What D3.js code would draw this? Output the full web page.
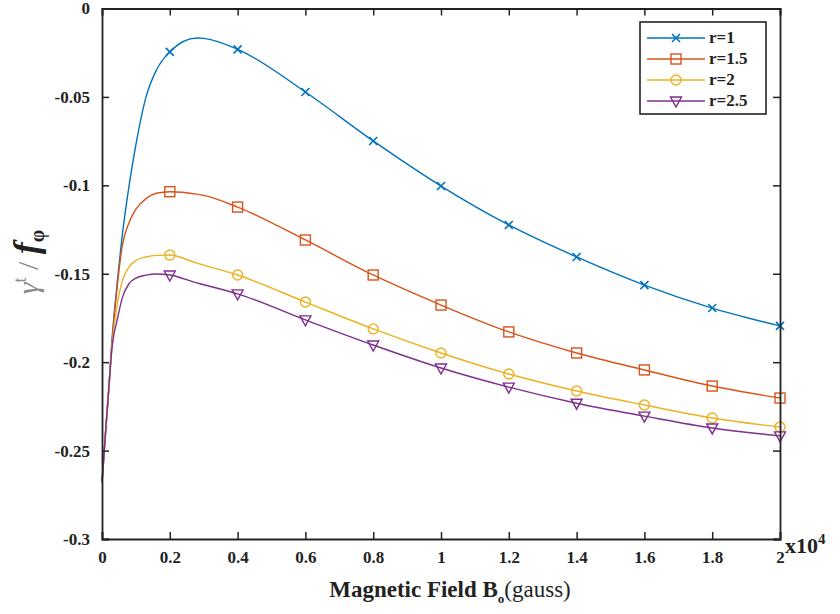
<!DOCTYPE html>
<html><head><meta charset="utf-8">
<script src="https://cdn.jsdelivr.net/npm/d3@7"></script>
<style>body{margin:0;background:#fff}svg{display:block}</style>
</head><body><svg id="c" width="840" height="614"></svg>
<script>
// ---- data (x in units of 10^4 gauss) ----
const seriesNames = ["r=1", "r=1.5", "r=2", "r=2.5"];
const markerX = [0.2, 0.4, 0.6, 0.8, 1.0, 1.2, 1.4, 1.6, 1.8, 2.0];
const markerR1  = [-0.0245, -0.0231, -0.0472, -0.0749, -0.1004, -0.1224, -0.1405, -0.1564, -0.1694, -0.1795];
const markerR15 = [-0.1036, -0.1123, -0.1309, -0.1507, -0.1677, -0.1829, -0.1948, -0.2044, -0.2135, -0.2203];
const markerR2  = [-0.1394, -0.1507, -0.1660, -0.1812, -0.1948, -0.2067, -0.2163, -0.2242, -0.2316, -0.2367];
const markerR25 = [-0.1507, -0.1614, -0.1761, -0.1903, -0.2033, -0.2141, -0.2232, -0.2305, -0.2372, -0.2417];
// extra curve samples read near the origin / peak
const earlyX   = [0, 0.01, 0.02, 0.03, 0.045, 0.06, 0.08, 0.1, 0.13, 0.16];
const earlyR1  = [-0.268, -0.241, -0.215, -0.186, -0.155, -0.128, -0.100, -0.077, -0.050, -0.035];
const earlyR15 = [-0.268, -0.241, -0.215, -0.188, -0.157, -0.134, -0.121, -0.1135, -0.1075, -0.1045];
const earlyR2  = [-0.268, -0.241, -0.215, -0.190, -0.167, -0.154, -0.146, -0.1425, -0.1405, -0.1396];
const earlyR25 = [-0.268, -0.241, -0.215, -0.191, -0.176, -0.1635, -0.1555, -0.1525, -0.1508, -0.1501];
const midX   = [0.28, 0.3];
const midR1  = [-0.0167, -0.0169];
const midR15 = [-0.1050, -0.1057];
const midR2  = [-0.1440, -0.1451];
const midR25 = [-0.1552, -0.1562];
const xTicks = [0, 0.2, 0.4, 0.6, 0.8, 1, 1.2, 1.4, 1.6, 1.8, 2];
const xTickLabels = ["0","0.2","0.4","0.6","0.8","1","1.2","1.4","1.6","1.8","2"];
const yTicks = [0, -0.05, -0.1, -0.15, -0.2, -0.25, -0.3];
const yTickLabels = ["0","-0.05","-0.1","-0.15","-0.2","-0.25","-0.3"];
const colors = ["#0072BD", "#D95319", "#EDB120", "#7E2F8E"];
const markerTypes = ["x", "square", "circle", "triangleDown"];

const markerVals = [markerR1, markerR15, markerR2, markerR25];
const earlyVals = [earlyR1, earlyR15, earlyR2, earlyR25];
const midVals = [midR1, midR15, midR2, midR25];

const svg = d3.select("#c");
const L = 102, R = 780, T = 8.5, B = 539;
const x = d3.scaleLinear().domain([0, 2]).range([L, R]);
const y = d3.scaleLinear().domain([-0.3, 0]).range([B, T]);
const serif = "'Liberation Serif','Times New Roman',serif";

// series
const line = d3.line().x(d => x(d[0])).y(d => y(d[1])).curve(d3.curveMonotoneX);
const g = svg.append("g");
seriesNames.forEach((name, i) => {
  let pts = earlyX.map((v, j) => [v, earlyVals[i][j]]);
  pts = pts.concat([[markerX[0], markerVals[i][0]]]);
  pts = pts.concat(midX.map((v, j) => [v, midVals[i][j]]));
  pts = pts.concat(markerX.slice(1).map((v, j) => [v, markerVals[i][j + 1]]));
  pts.sort((a, b) => a[0] - b[0]);
  g.append("path").attr("d", line(pts)).attr("fill", "none")
    .attr("stroke", colors[i]).attr("stroke-width", 1.4);
  markerX.forEach((v, j) => drawMarker(g, markerTypes[i], x(v), y(markerVals[i][j]), colors[i]));
});

function drawMarker(sel, type, cx, cy, col) {
  const s = 5;
  if (type === "x") {
    sel.append("path").attr("d", `M${cx-s+1},${cy-s+1}L${cx+s-1},${cy+s-1}M${cx-s+1},${cy+s-1}L${cx+s-1},${cy-s+1}`)
      .attr("stroke", col).attr("stroke-width", 1.6).attr("fill", "none");
  } else if (type === "square") {
    sel.append("rect").attr("x", cx - s).attr("y", cy - s).attr("width", 2*s).attr("height", 2*s)
      .attr("fill", "none").attr("stroke", col).attr("stroke-width", 1.4);
  } else if (type === "circle") {
    sel.append("circle").attr("cx", cx).attr("cy", cy).attr("r", s)
      .attr("fill", "none").attr("stroke", col).attr("stroke-width", 1.4);
  } else {
    sel.append("path").attr("d", `M${cx-s-0.5},${cy-s+1}L${cx+s+0.5},${cy-s+1}L${cx},${cy+s+1}Z`)
      .attr("fill", "none").attr("stroke", col).attr("stroke-width", 1.4);
  }
}

// axes (MATLAB style box with inner ticks)
const ax = svg.append("g");
const axB = d3.axisBottom(x).tickValues(xTicks).tickSize(-7).tickPadding(12).tickFormat((d, i) => xTickLabels[i]);
const axT = d3.axisTop(x).tickValues(xTicks).tickSize(-7).tickFormat("");
const axL = d3.axisLeft(y).tickValues(yTicks).tickSize(-7).tickPadding(12).tickFormat((d, i) => yTickLabels[i]);
const axR = d3.axisRight(y).tickValues(yTicks).tickSize(-7).tickFormat("");
ax.append("g").attr("transform", `translate(0,${B})`).call(axB);
ax.append("g").attr("transform", `translate(0,${T})`).call(axT);
ax.append("g").attr("transform", `translate(${L},0)`).call(axL);
ax.append("g").attr("transform", `translate(${R},0)`).call(axR);
ax.selectAll(".domain").attr("stroke", "#222").attr("stroke-width", 1.8);
ax.selectAll(".tick line").attr("stroke", "#222").attr("stroke-width", 1.5);
ax.selectAll(".tick text").attr("font-family", serif).attr("font-weight", "bold")
  .attr("font-size", 17).attr("fill", "#222");

// x multiplier
const mult = svg.append("text").attr("x", 785).attr("y", 553).attr("font-family", serif)
  .attr("font-weight", "bold").attr("font-size", 22).attr("fill", "#222");
mult.append("tspan").text("x10");
mult.append("tspan").attr("dy", -9).attr("font-size", 15).text("4");

// x label
const xl = svg.append("text").attr("x", 450).attr("y", 597).attr("text-anchor", "middle")
  .attr("font-family", serif).attr("font-size", 23).attr("fill", "#222");
xl.append("tspan").attr("font-weight", "bold").text("Magnetic Field B");
xl.append("tspan").attr("font-weight", "bold").attr("font-size", 13).attr("dy", 6).text("o");
xl.append("tspan").attr("dy", -6).text("(gauss)");

// y label
const yl = svg.append("text").attr("transform", "translate(38,262) rotate(-90)")
  .attr("text-anchor", "middle").attr("font-family", serif).attr("font-size", 30);
yl.append("tspan").attr("fill", "#8a8a8a").attr("font-style", "italic").text("γ");
yl.append("tspan").attr("fill", "#8a8a8a").attr("font-size", 18).attr("dy", -12).text("t");
yl.append("tspan").attr("fill", "#8a8a8a").attr("dy", 12).text(" / ");
yl.append("tspan").attr("fill", "#222").attr("font-style", "italic").attr("font-weight", "bold").attr("font-size", 36).text("f");
yl.append("tspan").attr("fill", "#222").attr("font-weight", "bold").attr("font-size", 20).attr("dy", 6).text("φ");

// legend
const lg = svg.append("g");
lg.append("rect").attr("x", 640).attr("y", 22).attr("width", 126).attr("height", 92)
  .attr("fill", "#fff").attr("stroke", "#222").attr("stroke-width", 1.6);
seriesNames.forEach((name, i) => {
  const yy = 38 + i * 21;
  lg.append("line").attr("x1", 647).attr("x2", 705).attr("y1", yy).attr("y2", yy)
    .attr("stroke", colors[i]).attr("stroke-width", 1.4);
  drawMarker(lg, markerTypes[i], 676, yy, colors[i]);
  lg.append("text").attr("x", 709).attr("y", yy + 5).attr("font-family", serif)
    .attr("font-weight", "bold").attr("font-size", 17).attr("fill", "#222").text(name);
});
</script></body></html>
